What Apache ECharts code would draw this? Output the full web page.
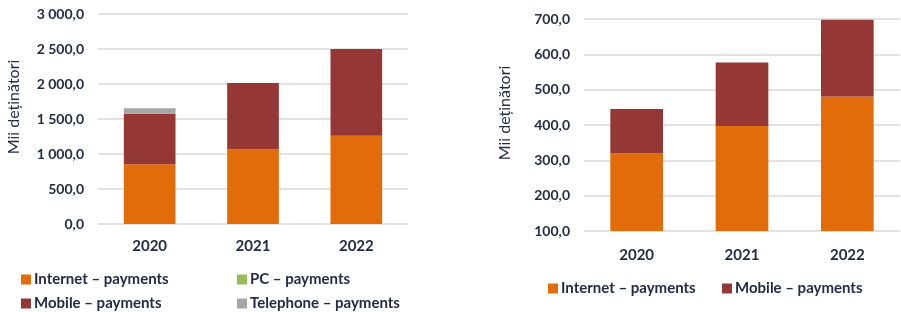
<!DOCTYPE html>
<html>
<head>
<meta charset="utf-8">
<script src="https://cdn.jsdelivr.net/npm/echarts@6/dist/echarts.min.js"></script>
<style>
  html, body { margin: 0; padding: 0; background: #fff; }
  #chart { width: 901px; height: 312px; }
</style>
</head>
<body>
<div id="chart"></div>
<script>
// years on both charts
var years = ['2020', '2021', '2022'];

// left chart: card holders by payment type (thousands)
var internetLeft = [853, 1067, 1261];
var mobileLeft = [723, 947, 1239];
var pcLeft = [0, 0, 0];
var telephoneLeft = [77, 0, 0];

// right chart
var internetRight = [319, 397, 481];
var mobileRight = [126, 180, 217];

var axisName = 'Mii deținători';
var names = ['Internet – payments', 'PC – payments', 'Mobile – payments', 'Telephone – payments'];

var textColor = '#232c43';
var fontFam = 'Lato, "Open Sans", sans-serif';

function fmt(v) {
  var s = v.toFixed(1).replace('.', ',');
  var parts = s.split(',');
  parts[0] = parts[0].replace(/\B(?=(\d{3})+(?!\d))/g, ' ');
  return parts.join(',');
}

function yAxisCfg(gridIndex, min, max, interval, gap) {
  return {
    type: 'value',
    gridIndex: gridIndex,
    min: min, max: max, interval: interval,
    name: axisName,
    nameLocation: 'middle',
    nameRotate: 90,
    nameGap: gap,
    nameTextStyle: { color: textColor, fontSize: 16, fontFamily: fontFam, padding: [0, 0, 0, 24] },
    axisLine: { show: false },
    axisTick: { show: false },
    axisLabel: { color: textColor, fontSize: 14, fontWeight: 'bold', fontFamily: fontFam, margin: 14, formatter: fmt },
    splitLine: { lineStyle: { color: '#e2e2e2', width: 2 } }
  };
}

function xAxisCfg(gridIndex, margin) {
  return {
    type: 'category',
    gridIndex: gridIndex,
    data: years,
    axisLine: { show: false },
    axisTick: { show: false },
    axisLabel: { color: textColor, fontSize: 15, fontWeight: 'bold', fontFamily: fontFam, margin: margin }
  };
}

function legendCfg(name, left, top) {
  return {
    data: [name],
    left: left, top: top,
    itemWidth: 10, itemHeight: 10,
    icon: 'rect',
    selectedMode: false,
    padding: 0,
    textStyle: { color: textColor, fontSize: 15, fontWeight: 'bold', fontFamily: fontFam, padding: [0, 0, 0, -2] }
  };
}

var colors = {
  internet: '#e36c0a',
  mobile: '#953735',
  pc: '#9bbb59',
  telephone: '#a6a6a6'
};

function bar(name, data, stack, idx, color) {
  return {
    name: name, type: 'bar', stack: stack,
    xAxisIndex: idx, yAxisIndex: idx,
    barWidth: '50%',
    data: data,
    itemStyle: { color: color },
    emphasis: { disabled: true }
  };
}

var myChart = echarts.init(document.getElementById('chart'));
myChart.setOption({
  animation: false,
  textStyle: { fontFamily: fontFam },
  grid: [
    { left: 98, top: 14, width: 310, height: 210 },
    { left: 584, top: 19, width: 316, height: 212 }
  ],
  xAxis: [xAxisCfg(0, 15), xAxisCfg(1, 17)],
  yAxis: [yAxisCfg(0, 0, 3000, 500, 76), yAxisCfg(1, 100, 700, 100, 71)],
  legend: [
    legendCfg(names[0], 21, 272),
    legendCfg(names[1], 237, 272),
    legendCfg(names[2], 21, 296),
    legendCfg(names[3], 237, 296),
    legendCfg(names[0], 548, 281),
    legendCfg(names[2], 722, 281)
  ],
  series: [
    bar(names[0], internetLeft, 'left', 0, colors.internet),
    bar(names[2], mobileLeft, 'left', 0, colors.mobile),
    bar(names[1], pcLeft, 'left', 0, colors.pc),
    bar(names[3], telephoneLeft, 'left', 0, colors.telephone),
    bar(names[0], internetRight, 'right', 1, colors.internet),
    bar(names[2], mobileRight, 'right', 1, colors.mobile)
  ]
});
</script>
</body>
</html>
